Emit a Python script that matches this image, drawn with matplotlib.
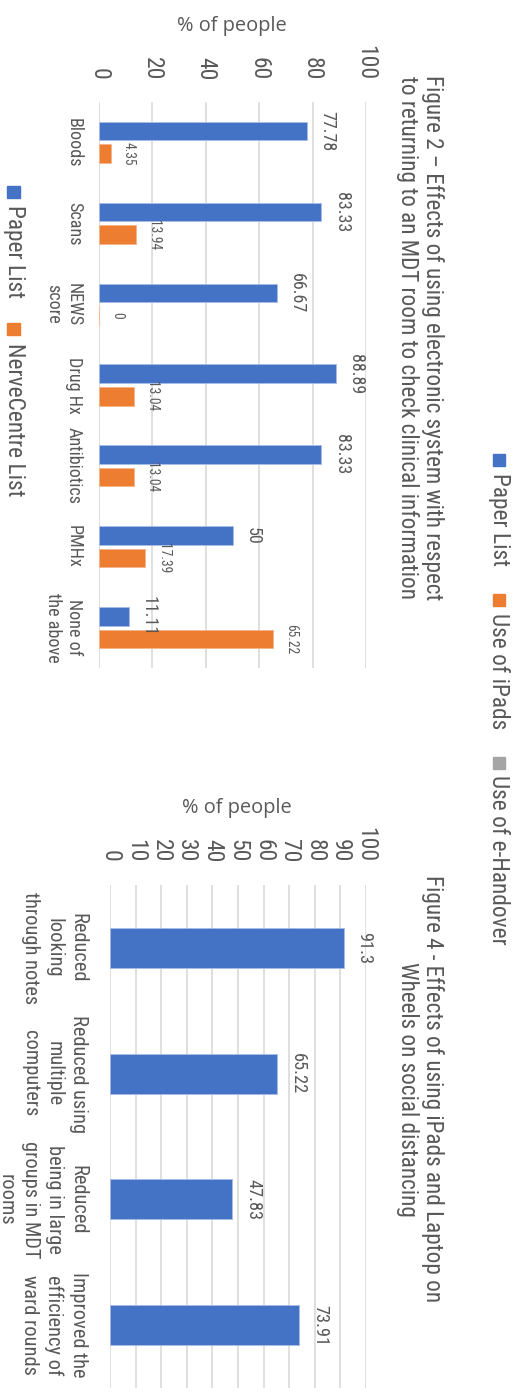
import matplotlib
matplotlib.use('Agg')
import matplotlib.pyplot as plt
from matplotlib.patches import Rectangle

plt.rcParams['font.family'] = ['Roboto Condensed', 'DejaVu Sans']
plt.rcParams['font.stretch'] = 'condensed'

W, H = 519, 1399
BLUE = '#4472C4'
ORANGE = '#ED7D31'
GREY = '#A5A5A5'
TXT = '#595959'
GRID = '#D9D9D9'

# Figure 2 data
cats2 = ['Bloods', 'Scans', 'NEWS\nscore', 'Drug Hx', 'Antibiotics', 'PMHx', 'None of\nthe above']
paper2 = [77.78, 83.33, 66.67, 88.89, 83.33, 50, 11.11]
nerve2 = [4.35, 13.94, 0, 13.04, 13.04, 17.39, 65.22]

# Figure 4 data
cats4 = ['Reduced\nlooking\nthrough notes', 'Reduced using\nmultiple\ncomputers',
         'Reduced\nbeing in large\ngroups in MDT\nrooms', 'Improved the\nefficiency of\nward rounds']
paper4 = [91.3, 65.22, 47.83, 73.91]


def fx(x):
    return x / W


def fy(y):
    return 1 - y / H


def setup(ax, xticks, cats, tpad, cpad, csize, cspace):
    ax.set_xlim(0, 100)
    ax.set_xticks(xticks)
    ax.xaxis.tick_top()
    ax.tick_params(axis='x', length=0, pad=tpad, labelsize=16.9, labelcolor=TXT, labelrotation=-90)
    ax.grid(axis='x', color=GRID, lw=1.2)
    ax.set_axisbelow(True)
    for s in ax.spines.values():
        s.set_visible(False)
    ax.set_yticks(range(len(cats)))
    ax.set_yticklabels(cats)
    ax.tick_params(axis='y', length=0, pad=cpad, labelsize=csize, labelcolor=TXT)
    for t in ax.get_yticklabels():
        t.set_rotation(-90)
        t.set_va('center')
        t.set_ha('right')
        t.set_multialignment('center')
        t.set_linespacing(cspace)
    ax.set_ylim(len(cats) - 0.5, -0.5)


fig = plt.figure(figsize=(W / 100, H / 100), dpi=100)

# ---- Figure 2 chart
ax1 = fig.add_axes([fx(99), fy(668), fx(366) - fx(99), (668 - 102) / H])
y = list(range(len(cats2)))
ax1.barh([i - 0.14 for i in y], paper2, height=0.23, color=BLUE, edgecolor='#A9BDE6', lw=0.6)
ax1.barh([i + 0.14 for i in y], nerve2, height=0.23, color=ORANGE, edgecolor='#F5B48A', lw=0.6)
for i in y:
    ax1.annotate(f'{paper2[i]:g}', (paper2[i], i - 0.14), xytext=(8, 0), textcoords='offset points',
                 rotation=-90, ha='left', va='center', fontsize=13, color=TXT)
    ax1.annotate(f'{nerve2[i]:g}', (nerve2[i], i + 0.14), xytext=(8, 0), textcoords='offset points',
                 rotation=-90, ha='left', va='center', fontsize=9.75, color=TXT)
setup(ax1, range(0, 101, 20), cats2, 15.8, 11.5, 13.1, 1.2)

fig.text(fx(232), fy(26), '% of people', ha='center', va='center', fontsize=14.4,
         family=['Open Sans', 'DejaVu Sans'], fontstretch='normal', color=TXT)
fig.text(fx(420), fy(338),
         'Figure 2 \u2013 Effects of using electronic system with respect\n'
         'to returning to an MDT room to check clinical information',
         rotation=-90, ha='center', va='center', fontsize=16.7, color=TXT, linespacing=1.13)

# legend figure 2
fig.patches.append(Rectangle((fx(7), fy(198)), 13 / W, 12 / H, color=BLUE, transform=fig.transFigure))
fig.text(fx(14), fy(205), 'Paper List', rotation=-90, ha='center', va='top', fontsize=16.8, color=TXT)
fig.patches.append(Rectangle((fx(7), fy(335)), 13 / W, 12 / H, color=ORANGE, transform=fig.transFigure))
fig.text(fx(14), fy(343), 'NerveCentre List', rotation=-90, ha='center', va='top', fontsize=16.8, color=TXT)

# ---- Figure 4 chart
ax2 = fig.add_axes([fx(110), fy(1388), fx(366) - fx(110), (1388 - 885) / H])
y4 = list(range(len(cats4)))
ax2.barh(y4, paper4, height=0.32, color=BLUE, edgecolor='#A9BDE6', lw=0.6)
for i in y4:
    ax2.annotate(f'{paper4[i]:g}', (paper4[i], i), xytext=(8.5, 0), textcoords='offset points',
                 rotation=-90, ha='left', va='center', fontsize=13.25, color=TXT)
setup(ax2, range(0, 101, 10), cats4, 16.5, 16, 14.7, 1.33)

fig.text(fx(237), fy(808), '% of people', ha='center', va='center', fontsize=14.4,
         family=['Open Sans', 'DejaVu Sans'], fontstretch='normal', color=TXT)
fig.text(fx(420), fy(1089),
         'Figure 4 - Effects of using iPads and Laptop on\nWheels on social distancing',
         rotation=-90, ha='center', va='center', fontsize=16.7, color=TXT, linespacing=1.13)

# legend figure 4
for col, lab, y0, yt in [(BLUE, 'Paper List', 454, 473), (ORANGE, 'Use of iPads', 594, 613),
                         (GREY, 'Use of e-Handover', 757, 775)]:
    fig.patches.append(Rectangle((fx(493), fy(y0 + 12)), 12 / W, 12 / H, color=col, transform=fig.transFigure))
    fig.text(fx(499), fy(yt), lab, rotation=-90, ha='center', va='top', fontsize=16.8, color=TXT)

fig.savefig('out.png', dpi=100)
